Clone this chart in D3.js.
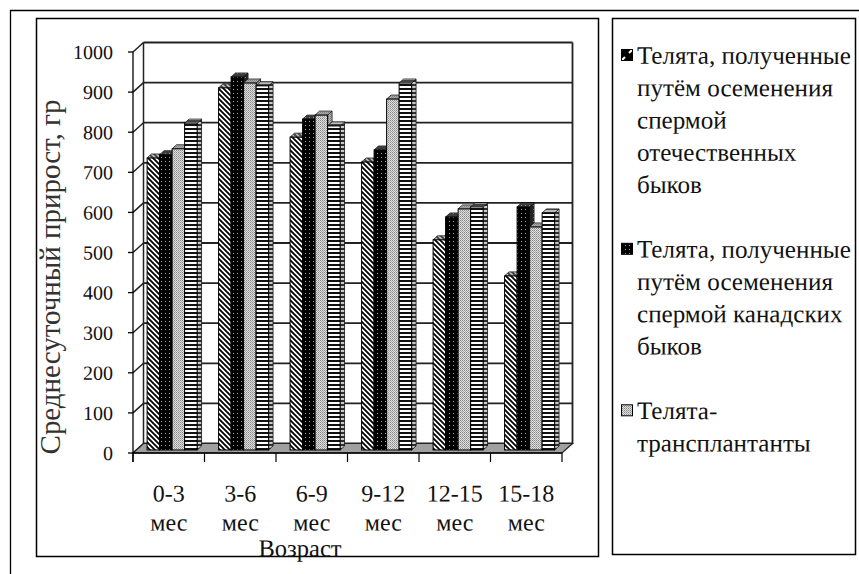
<!DOCTYPE html>
<html lang="ru"><head><meta charset="utf-8">
<script src="https://cdn.jsdelivr.net/npm/d3@7"></script>
<style>body{margin:0;background:#fff}svg{display:block}</style>
</head><body><svg id="c" width="859" height="574"></svg>
<script>
const categories = ["0-3","3-6","6-9","9-12","12-15","15-18"];
const unitLabel = "мес";
const s1 = [728, 903, 780, 718, 524, 434];
const s2 = [736, 930, 825, 748, 581, 606];
const s3 = [751, 915, 835, 875, 601, 556];
const s4 = [815, 908, 808, 915, 606, 591];
const seriesValues = [s1, s2, s3, s4];
const seriesKeys = ["s1","s2","s3","s4"];
const legendLines = [
  ["Телята, полученные","путём осеменения","спермой","отечественных","быков"],
  ["Телята, полученные","путём осеменения","спермой канадских","быков"],
  ["Телята-","трансплантанты"]
];
const yTicks = [0,100,200,300,400,500,600,700,800,900,1000];
const yTitle = "Среднесуточный прирост, гр";
const xTitle = "Возраст";

const FONT = '"Liberation Serif","Tinos","FreeSerif","DejaVu Serif"';
const svg = d3.select("#c");
function fit(str, target){
  const t = svg.append("text").style("font-family",FONT).attr("font-size",20).text(str);
  const w = t.node().getComputedTextLength(); t.remove();
  return 20*target/w;
}
function label(x, y, str, fs, anchor, rot, fill){
  const r = rot ? rot : 0.03;
  const gg = svg.append("g").attr("transform",`translate(${x},${y}) rotate(${r})`);
  gg.append("text").style("font-family",FONT).attr("fill",fill||"#111")
    .attr("font-size",fs).attr("dy","0.35em").attr("text-anchor",anchor).text(str);
}
const fsY = fit("1000", 40);
const fsC = fit("12-15", 56);
const fsX = fit(xTitle, 83);
const fsT = fit(yTitle, 355);
const fsL = fit("Телята, полученные", 214);

const defs = svg.append("defs");
function pat(id, w, h, draw){ const p = defs.append("pattern").attr("id",id).attr("patternUnits","userSpaceOnUse").attr("width",w).attr("height",h); draw(p); }
pat("p1",5,5,p=>{p.append("rect").attr("width",5).attr("height",5).attr("fill","#fff");
  p.append("path").attr("d","M-1,-1 L6,6 M-1,4 L1,6 M4,-1 L6,1").attr("stroke","#000").attr("stroke-width",1.8);});
pat("p2",4,4,p=>{p.append("rect").attr("width",4).attr("height",4).attr("fill","#000");
  p.append("rect").attr("x",1).attr("y",1).attr("width",1).attr("height",1).attr("fill","#aaa");});
pat("p3",2,2,p=>{p.append("rect").attr("width",2).attr("height",2).attr("fill","#dedede");
  p.append("rect").attr("x",0).attr("y",0).attr("width",1).attr("height",1).attr("fill","#888");
  p.append("rect").attr("x",1).attr("y",1).attr("width",1).attr("height",1).attr("fill","#aaa");});
pat("p4",4,4,p=>{p.append("rect").attr("width",4).attr("height",4).attr("fill","#fff");
  p.append("rect").attr("y",0).attr("width",4).attr("height",2).attr("fill","#111");});
pat("pm1",11,11,p=>{p.append("rect").attr("width",11).attr("height",11).attr("fill","#000");
  p.append("path").attr("d","M2,9 L9,2").attr("stroke","#fff").attr("stroke-width",2.2);});
const fills = ["url(#p1)","url(#p2)","url(#p3)","url(#p4)"];

svg.append("path").attr("d","M10.5,574 L10.5,10.5 L859,10.5").attr("fill","none").attr("stroke","#000").attr("stroke-width",1.3);
svg.append("rect").attr("x",36.5).attr("y",18.5).attr("width",562).attr("height",538).attr("fill","#fff").attr("stroke","#000").attr("stroke-width",1.5);
svg.append("rect").attr("x",612.5).attr("y",18.5).attr("width",243).attr("height",536).attr("fill","#fff").attr("stroke","#000").attr("stroke-width",1.5);

const X0 = 133, X1 = 562, DX = 10.5, DY = -9.5;
const y = d3.scaleLinear().domain([0,1000]).range([453,52]);
const xb = d3.scaleBand().domain(categories).range([X0,X1]).paddingInner(0.3).paddingOuter(0.15);
const xt = d3.scaleBand().domain(categories).range([X0,X1]).padding(0);
const xs = d3.scaleBand().domain(seriesKeys).range([0, xb.bandwidth()]);
const proj = (px,py,z)=>[px+z*DX, py+z*DY];

const g = svg.append("g");
g.append("rect").attr("x",X0+DX).attr("y",y(1000)+DY).attr("width",X1-X0).attr("height",y(0)-y(1000)).attr("fill","#fff");
g.selectAll("line.grid").data(yTicks).join("line").attr("class","grid")
  .attr("x1",X0+DX).attr("x2",X1+DX).attr("y1",d=>y(d)+DY).attr("y2",d=>y(d)+DY)
  .attr("stroke","#222").attr("stroke-width",1.8);
g.selectAll("line.slant").data(yTicks).join("line").attr("class","slant")
  .attr("x1",X0).attr("x2",X0+DX).attr("y1",d=>y(d)).attr("y2",d=>y(d)+DY)
  .attr("stroke","#222").attr("stroke-width",1.5);
g.append("line").attr("x1",X0+DX).attr("x2",X0+DX).attr("y1",y(1000)+DY).attr("y2",y(0)+DY).attr("stroke","#222").attr("stroke-width",1.5);
g.append("line").attr("x1",X1+DX).attr("x2",X1+DX).attr("y1",y(1000)+DY).attr("y2",y(0)+DY).attr("stroke","#222").attr("stroke-width",1.8);
g.append("path").attr("d",`M${X0},${y(0)} L${X1},${y(0)} L${X1+DX},${y(0)+DY} L${X0+DX},${y(0)+DY} Z`)
  .attr("fill","#a0a0a0").attr("stroke","#222").attr("stroke-width",1.2);
g.append("line").attr("x1",X0).attr("x2",X0).attr("y1",y(1000)).attr("y2",y(0)+9).attr("stroke","#000").attr("stroke-width",1.3);
g.append("line").attr("x1",X0).attr("x2",X1).attr("y1",y(0)).attr("y2",y(0)).attr("stroke","#000").attr("stroke-width",1.3);
g.selectAll("line.yt").data(yTicks).join("line").attr("class","yt")
  .attr("x1",X0-5).attr("x2",X0).attr("y1",d=>y(d)).attr("y2",d=>y(d)).attr("stroke","#000").attr("stroke-width",1.3);
g.selectAll("line.xtk").data(categories.concat(["end"])).join("line").attr("class","xtk")
  .attr("x1",(d,i)=> i<categories.length? xt(d): X1).attr("x2",(d,i)=> i<categories.length? xt(d): X1)
  .attr("y1",y(0)).attr("y2",y(0)+9).attr("stroke","#000").attr("stroke-width",1.2);

const ZF = 0.32, ZB = 0.42;
const barsG = svg.append("g");
categories.forEach((c,ci)=>{
  seriesKeys.forEach((k,si)=>{
    const v = seriesValues[si][ci];
    const [bx, by0] = proj(xb(c)+xs(k), y(0), ZF);
    const w = xs.bandwidth();
    const top = by0 - (y(0)-y(v));
    const dx = ZB*DX, dy = ZB*DY;
    const bg = barsG.append("g");
    const side = `M${bx+w},${by0} L${bx+w+dx},${by0+dy} L${bx+w+dx},${top+dy} L${bx+w},${top} Z`;
    const tp = `M${bx},${top} L${bx+w},${top} L${bx+w+dx},${top+dy} L${bx+dx},${top+dy} Z`;
    bg.append("path").attr("d",side).attr("fill",fills[si]).attr("stroke","#000").attr("stroke-width",0.8);
    bg.append("path").attr("d",side).attr("fill","#666").attr("fill-opacity",0.35);
    bg.append("path").attr("d",tp).attr("fill",fills[si]).attr("stroke","#000").attr("stroke-width",0.8);
    bg.append("path").attr("d",tp).attr("fill","#777").attr("fill-opacity",0.5);
    bg.append("rect").attr("x",bx).attr("y",top).attr("width",w).attr("height",by0-top)
      .attr("fill",fills[si]).attr("stroke","#000").attr("stroke-width",1);
  });
});

yTicks.forEach(d=> label(113, y(d), String(d), fsY, "end"));
categories.forEach(d=>{
  const cx = xt(d)+xt.bandwidth()/2;
  label(cx, 493, d, fsC, "middle");
  label(cx, 522, unitLabel, fsC, "middle");
});
label(300, 548, xTitle, fsX, "middle");
label(50, 277, yTitle, fsT, "middle", -90, "#333");

const legFills = ["url(#pm1)","url(#p2)","url(#p3)"];
let line = 0;
const LY0 = 55, LH = 32.3;
legendLines.forEach((lines,i)=>{
  const yy = LY0 + line*LH;
  svg.append("rect").attr("x",621.5).attr("y",yy-5.5).attr("width",11).attr("height",11)
    .attr("fill",legFills[i]).attr("stroke","#000").attr("stroke-width",1);
  lines.forEach((t,j)=> label(637, LY0+(line+j)*LH, t, fsL, "start"));
  line += lines.length + 1;
});
</script></body></html>
